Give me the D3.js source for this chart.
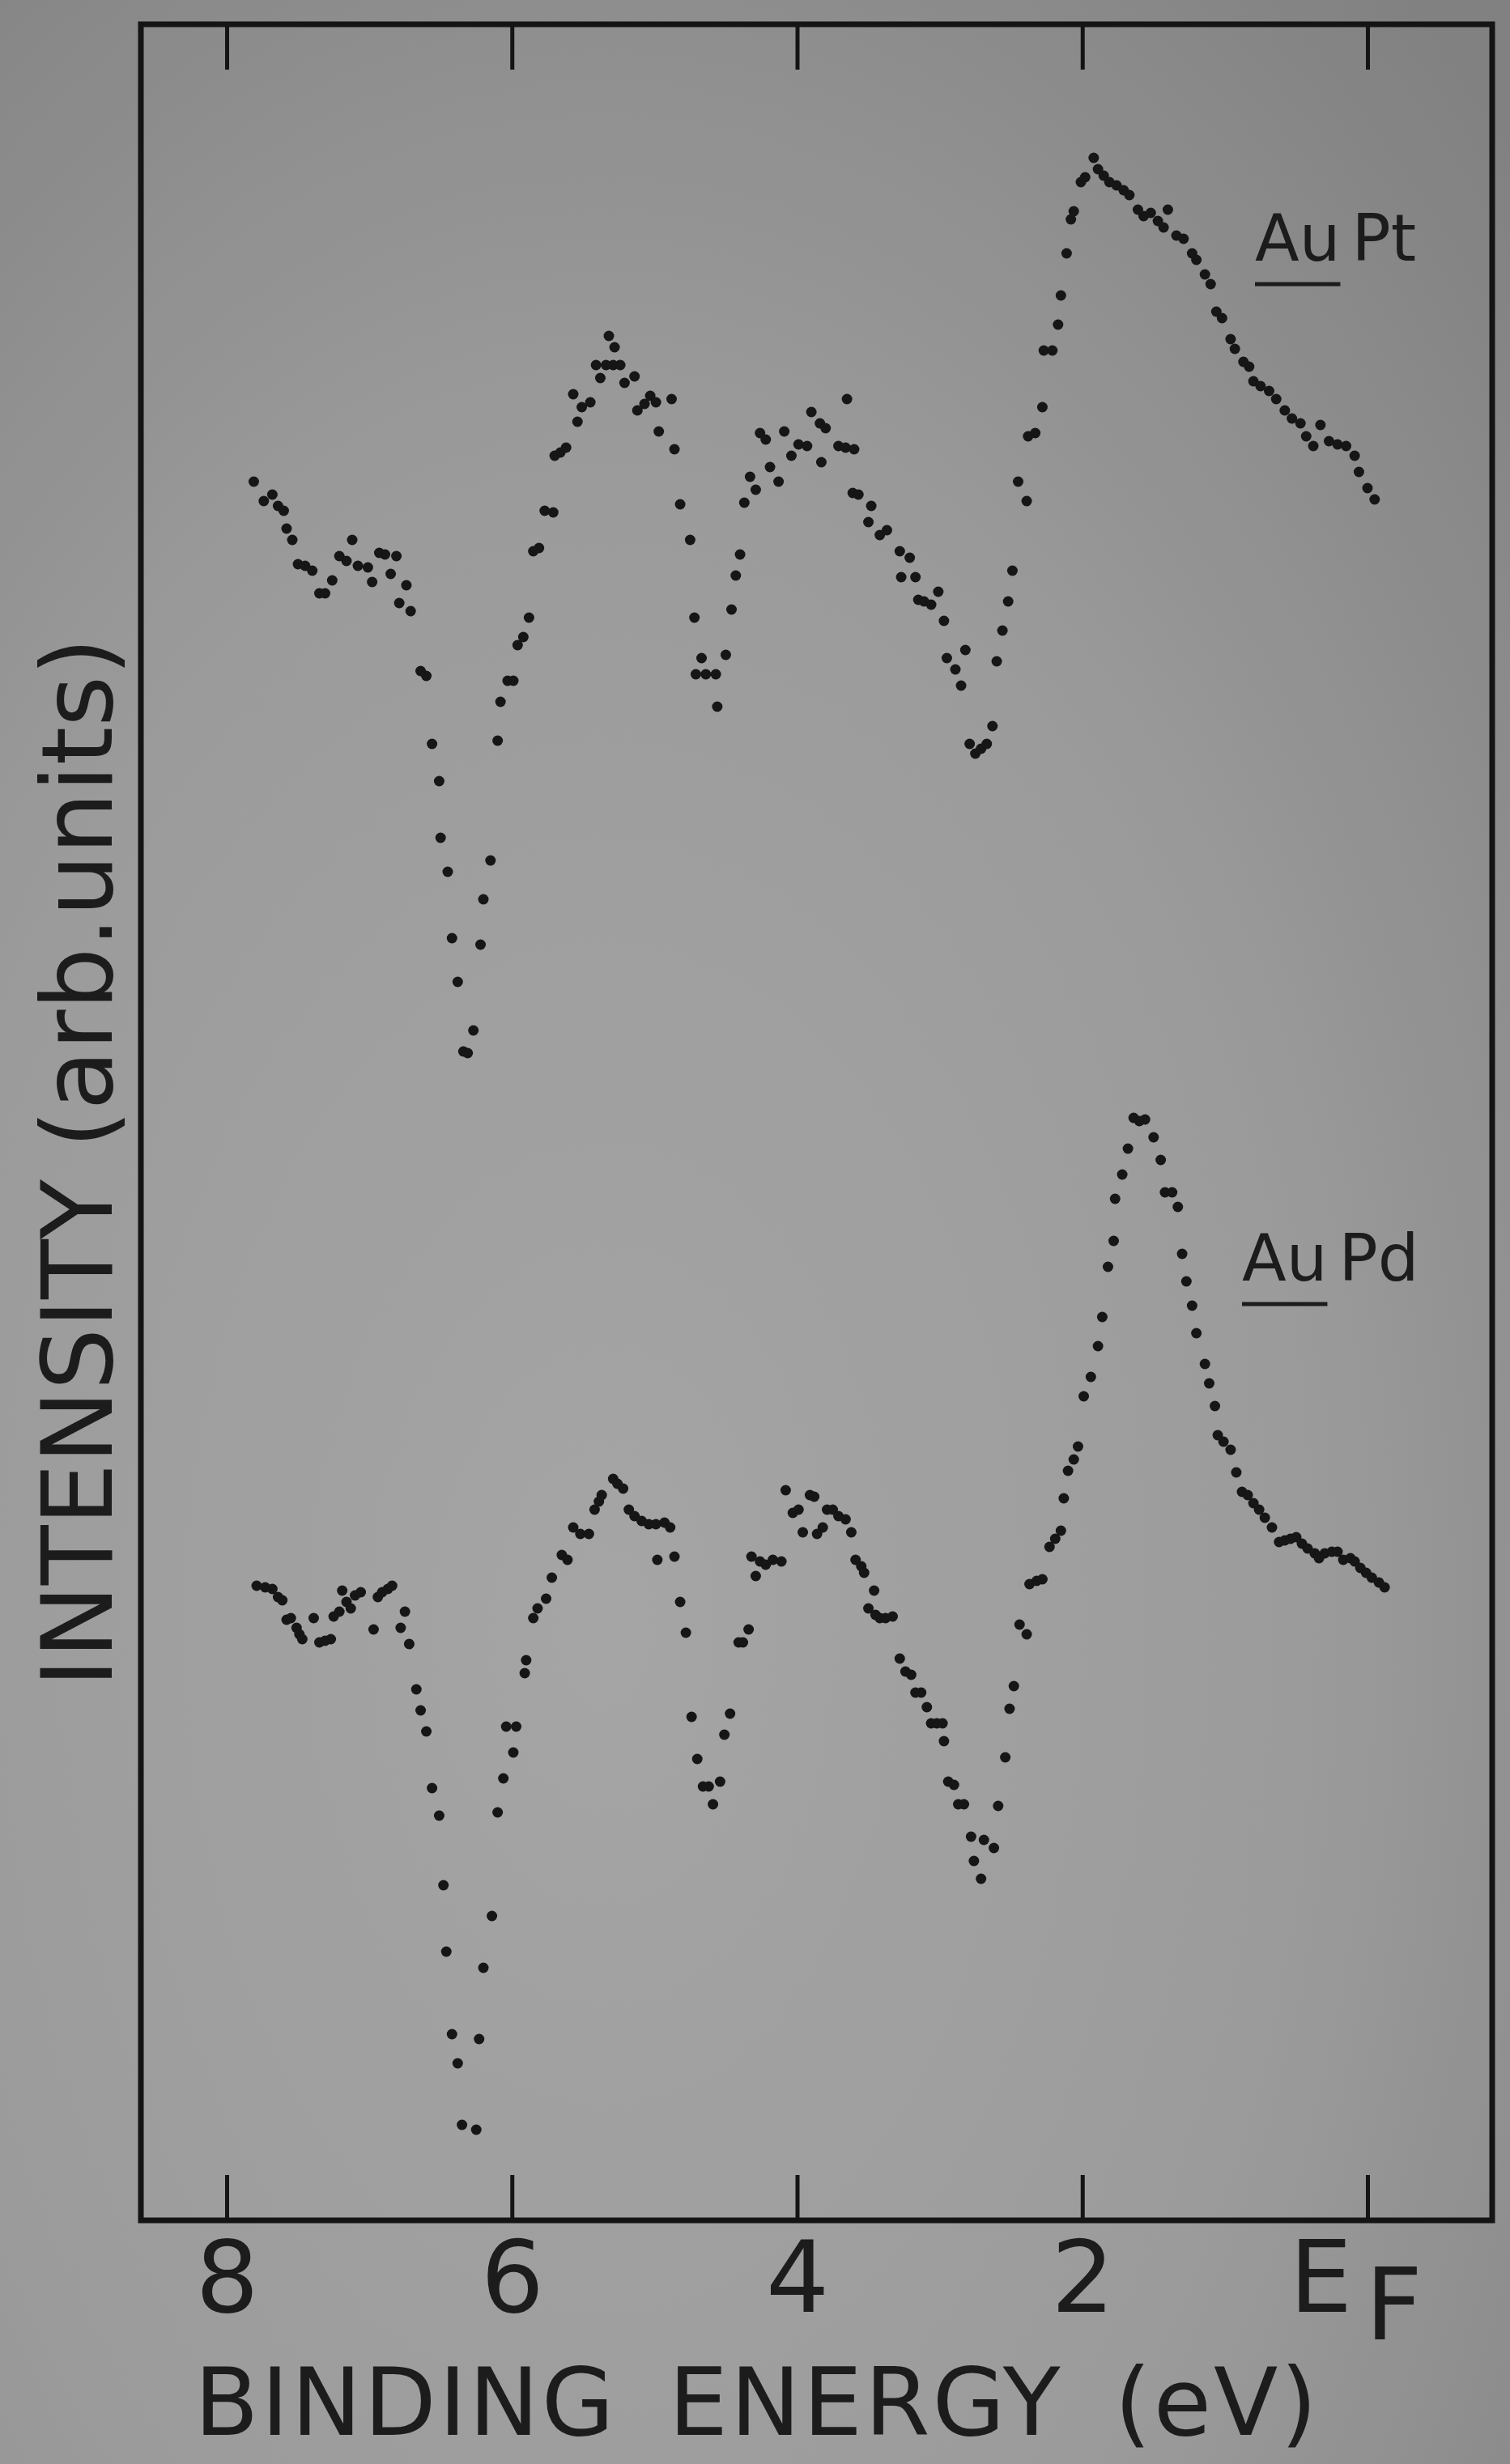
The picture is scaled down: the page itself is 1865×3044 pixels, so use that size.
<!DOCTYPE html>
<html lang="en">
<head>
<meta charset="UTF-8">
<style>
  body { margin: 0; background: #959595; }
  svg { display: block; }
  text { font-family: "DejaVu Sans", sans-serif; fill: #1c1c1c; }
</style>
<script src="https://cdn.jsdelivr.net/npm/d3@7"></script>
</head>
<body>
<div id="chart"></div>
<script>
// binding energy ticks (eV) and their labels, E_F = 0
const tickValues = [8, 6, 4, 2, 0];
const tickLabels = ["8", "6", "4", "2", "E"];

// series: [binding energy (eV), intensity (arb. units)]
const auPt = [[7.81,106.5],[7.74,105.3],[7.68,105.7],[7.64,105.0],[7.60,104.7],[7.58,103.6],[7.54,102.9],[7.50,101.4],[7.45,101.3],[7.40,101.0],[7.35,99.6],[7.31,99.6],[7.26,100.4],[7.21,101.9],[7.16,101.6],[7.12,102.9],[7.08,101.3],[7.01,101.2],[6.98,100.3],[6.93,102.1],[6.89,102.0],[6.85,100.8],[6.81,101.9],[6.79,99.0],[6.74,100.1],[6.71,98.5],[6.64,94.8],[6.60,94.5],[6.56,90.3],[6.51,88.0],[6.50,84.5],[6.45,82.4],[6.42,78.3],[6.38,75.6],[6.34,71.3],[6.31,71.2],[6.27,72.6],[6.22,77.9],[6.20,80.7],[6.15,83.1],[6.10,90.5],[6.08,92.9],[6.03,94.2],[5.99,94.2],[5.96,96.4],[5.92,96.9],[5.88,98.1],[5.85,102.2],[5.81,102.4],[5.77,104.7],[5.71,104.6],[5.70,108.1],[5.66,108.3],[5.62,108.6],[5.57,111.9],[5.54,110.2],[5.51,111.1],[5.45,111.4],[5.41,113.7],[5.38,112.9],[5.34,113.7],[5.32,115.5],[5.29,113.7],[5.28,114.8],[5.24,113.7],[5.21,112.6],[5.14,113.0],[5.12,110.9],[5.07,111.3],[5.03,111.8],[4.99,111.4],[4.97,109.6],[4.88,111.6],[4.86,108.5],[4.82,105.1],[4.75,102.9],[4.72,98.1],[4.71,94.6],[4.67,95.6],[4.64,94.6],[4.57,94.6],[4.56,92.6],[4.50,95.8],[4.46,98.6],[4.43,100.7],[4.40,102.0],[4.37,105.2],[4.33,106.8],[4.29,106.0],[4.26,109.5],[4.22,109.1],[4.19,107.4],[4.13,106.5],[4.09,109.6],[4.04,108.1],[3.99,108.8],[3.93,108.7],[3.90,110.8],[3.84,110.1],[3.83,107.7],[3.80,109.8],[3.71,108.7],[3.66,108.6],[3.65,111.6],[3.61,105.8],[3.60,108.5],[3.57,105.7],[3.50,104.0],[3.48,105.0],[3.42,103.2],[3.37,103.5],[3.28,102.2],[3.27,100.6],[3.21,101.8],[3.17,100.6],[3.15,99.2],[3.11,99.1],[3.06,98.9],[3.01,99.7],[2.97,97.9],[2.95,95.6],[2.89,94.9],[2.85,93.9],[2.82,96.1],[2.79,90.3],[2.75,89.7],[2.71,90.0],[2.67,90.3],[2.63,91.4],[2.60,95.4],[2.56,97.3],[2.52,99.1],[2.49,101.0],[2.45,106.5],[2.39,105.3],[2.38,109.3],[2.33,109.5],[2.28,111.1],[2.27,114.6],[2.21,114.6],[2.17,116.2],[2.15,118.0],[2.11,120.6],[2.08,122.7],[2.06,123.2],[2.01,125.0],[1.98,125.3],[1.92,126.5],[1.89,125.8],[1.85,125.4],[1.81,125.0],[1.76,124.8],[1.71,124.5],[1.67,124.2],[1.61,123.3],[1.57,122.9],[1.52,123.1],[1.47,122.6],[1.43,122.2],[1.40,123.3],[1.34,121.7],[1.29,121.5],[1.23,120.6],[1.20,120.2],[1.14,119.3],[1.10,118.7],[1.06,117.0],[1.02,116.6],[0.96,115.3],[0.93,114.7],[0.87,113.9],[0.83,113.6],[0.80,112.7],[0.75,112.4],[0.69,112.1],[0.64,111.6],[0.58,110.9],[0.53,110.4],[0.47,110.1],[0.43,109.3],[0.38,108.7],[0.33,110.0],[0.27,109.0],[0.21,108.8],[0.15,108.7],[0.09,108.1],[0.06,107.1],[0.00,106.1],[-0.05,105.4]];

const auPd = [[7.79,38.3],[7.73,38.2],[7.68,38.1],[7.64,37.6],[7.61,37.4],[7.58,36.2],[7.55,36.3],[7.51,35.7],[7.49,35.3],[7.47,35.0],[7.39,36.3],[7.35,34.8],[7.31,34.9],[7.27,35.0],[7.25,36.4],[7.21,36.7],[7.19,38.0],[7.16,37.3],[7.13,36.9],[7.10,37.7],[7.06,37.9],[6.97,35.6],[6.94,37.6],[6.91,37.9],[6.87,38.1],[6.84,38.3],[6.78,35.7],[6.75,36.7],[6.72,34.7],[6.67,31.9],[6.64,30.6],[6.60,29.3],[6.56,25.8],[6.51,24.1],[6.48,19.8],[6.46,15.7],[6.42,10.6],[6.38,8.8],[6.35,5.0],[6.25,4.7],[6.23,10.3],[6.20,14.7],[6.14,17.9],[6.10,24.3],[6.06,26.4],[6.04,29.6],[5.99,28.0],[5.97,29.6],[5.91,32.9],[5.90,33.7],[5.85,36.3],[5.82,36.9],[5.76,37.5],[5.72,38.8],[5.65,40.2],[5.61,39.9],[5.57,41.9],[5.52,41.5],[5.46,41.5],[5.42,43.0],[5.39,43.5],[5.37,43.9],[5.29,44.9],[5.26,44.6],[5.22,44.3],[5.18,43.0],[5.14,42.6],[5.09,42.3],[5.04,42.1],[4.99,42.1],[4.98,39.9],[4.93,42.2],[4.89,41.9],[4.86,40.1],[4.82,37.3],[4.78,35.4],[4.74,30.2],[4.70,27.6],[4.66,25.9],[4.62,25.9],[4.59,24.8],[4.54,26.2],[4.51,29.1],[4.47,30.4],[4.41,34.8],[4.38,34.8],[4.34,35.6],[4.32,40.1],[4.29,38.9],[4.26,39.8],[4.22,39.6],[4.17,39.9],[4.11,39.8],[4.08,44.2],[4.03,42.8],[3.99,43.0],[3.96,41.6],[3.91,43.9],[3.88,43.8],[3.86,41.5],[3.82,41.9],[3.79,43.0],[3.75,43.0],[3.71,42.6],[3.66,42.4],[3.62,41.6],[3.59,39.9],[3.55,39.5],[3.53,39.1],[3.50,36.9],[3.46,38.0],[3.45,36.5],[3.42,36.3],[3.38,36.3],[3.33,36.4],[3.28,33.8],[3.24,33.0],[3.20,32.8],[3.17,31.7],[3.13,31.7],[3.09,30.8],[3.06,29.8],[3.02,29.8],[2.98,29.8],[2.97,28.7],[2.94,26.2],[2.90,26.0],[2.87,24.8],[2.83,24.8],[2.78,22.8],[2.76,21.3],[2.71,20.2],[2.69,22.6],[2.62,22.1],[2.59,24.7],[2.54,27.7],[2.51,30.7],[2.48,32.1],[2.44,35.9],[2.39,35.3],[2.37,38.4],[2.32,38.6],[2.28,38.7],[2.23,40.7],[2.19,41.2],[2.15,41.7],[2.13,43.7],[2.10,45.4],[2.06,46.1],[2.03,46.9],[1.99,50.0],[1.94,51.2],[1.89,53.1],[1.86,54.9],[1.82,58.0],[1.78,59.6],[1.77,62.2],[1.72,63.7],[1.68,65.3],[1.64,67.2],[1.60,67.0],[1.56,67.1],[1.50,66.0],[1.45,64.6],[1.42,62.6],[1.37,62.6],[1.33,61.7],[1.30,58.8],[1.27,57.1],[1.23,55.6],[1.20,53.9],[1.14,52.0],[1.11,50.8],[1.07,49.4],[1.05,47.6],[1.01,47.2],[0.96,46.7],[0.92,45.3],[0.88,44.1],[0.84,43.9],[0.80,43.4],[0.76,43.0],[0.72,42.5],[0.67,41.9],[0.62,41.0],[0.58,41.1],[0.54,41.2],[0.50,41.3],[0.46,40.9],[0.42,40.6],[0.37,40.3],[0.34,40.0],[0.30,40.3],[0.25,40.4],[0.21,40.4],[0.17,39.9],[0.12,40.0],[0.09,39.8],[0.05,39.4],[0.01,39.1],[-0.03,38.8],[-0.08,38.5],[-0.12,38.2]];

const W = 1865, H = 3044;
const box = {left: 174, right: 1843, top: 30, bottom: 2743};

const svg = d3.select("#chart").append("svg")
  .attr("width", W)
  .attr("height", H);

// photographed paper: uneven grey, darker toward the top right
const grad = svg.append("defs").append("radialGradient")
  .attr("id", "paper")
  .attr("cx", "40%").attr("cy", "66%").attr("r", "85%");
grad.append("stop").attr("offset", "0%").attr("stop-color", "#a5a5a5");
grad.append("stop").attr("offset", "55%").attr("stop-color", "#9b9b9b");
grad.append("stop").attr("offset", "100%").attr("stop-color", "#818181");
svg.append("rect").attr("width", W).attr("height", H).attr("fill", "url(#paper)");

const x = d3.scaleLinear().domain([8, 0]).range([280, 1689]);
const y = d3.scaleLinear().domain([0, 135]).range([2725, 25]);

// frame
svg.append("rect")
  .attr("x", box.left).attr("y", box.top)
  .attr("width", box.right - box.left).attr("height", box.bottom - box.top)
  .attr("fill", "none").attr("stroke", "#141414").attr("stroke-width", 7);

// ticks on top (inward, no labels)
const topAxis = svg.append("g")
  .attr("transform", `translate(0,${box.top})`)
  .call(d3.axisTop(x).tickValues(tickValues).tickSize(-56).tickFormat(""));

// ticks at bottom (inward) with labels
const bottomAxis = svg.append("g")
  .attr("transform", `translate(0,${box.bottom})`)
  .call(d3.axisBottom(x).tickValues(tickValues).tickSize(-56).tickPadding(26)
    .tickFormat((d, i) => tickLabels[i]));

[topAxis, bottomAxis].forEach(g => {
  g.select(".domain").remove();
  g.selectAll(".tick line").attr("stroke", "#141414").attr("stroke-width", 5);
});

bottomAxis.selectAll(".tick text")
  .attr("font-size", 123)
  .attr("font-family", "DejaVu Sans, sans-serif")
  .attr("fill", "#1c1c1c");

// subscript F for the Fermi level label
bottomAxis.selectAll(".tick text")
  .filter(d => d === 0)
  .attr("dx", "-0.12em")
  .append("tspan")
  .attr("dx", 16)
  .attr("dy", 34)
  .text("F");

// data points
const series = [auPt, auPd];
series.forEach(data => {
  svg.append("g")
    .selectAll("circle")
    .data(data)
    .join("circle")
    .attr("cx", d => x(d[0]))
    .attr("cy", d => y(d[1]))
    .attr("r", 6.5)
    .attr("fill", "#161616");
});

// series labels with underlined "Au"
const labels = [
  {a: "Au", b: "Pt", x: 1550, y: 322},
  {a: "Au", b: "Pd", x: 1534, y: 1582}
];
labels.forEach(l => {
  const t = svg.append("text")
    .attr("x", l.x).attr("y", l.y)
    .attr("font-size", 80);
  t.append("tspan").text(l.a);
  t.append("tspan").attr("dx", 14).text(l.b);
  const w = t.node().getSubStringLength(0, 2);
  svg.append("line")
    .attr("x1", l.x).attr("x2", l.x + w)
    .attr("y1", l.y + 29).attr("y2", l.y + 29)
    .attr("stroke", "#1c1c1c").attr("stroke-width", 5);
});

// axis titles
svg.append("text")
  .attr("x", 240).attr("y", 3008)
  .attr("font-size", 116)
  .attr("letter-spacing", 3)
  .attr("word-spacing", 24)
  .text("BINDING ENERGY (eV)");

svg.append("text")
  .attr("transform", "translate(138,1436) rotate(-90)")
  .attr("text-anchor", "middle")
  .attr("font-size", 121)
  .text("INTENSITY (arb.units)");
</script>
</body>
</html>
